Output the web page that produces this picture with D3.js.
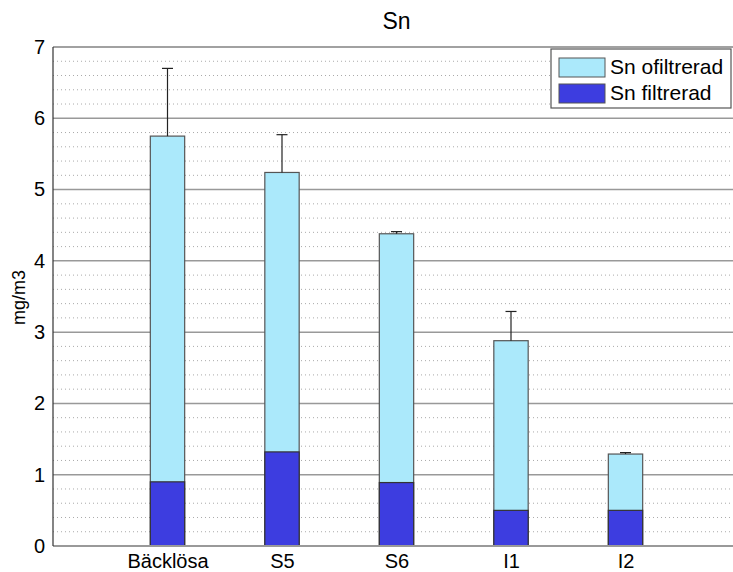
<!DOCTYPE html>
<html>
<head>
<meta charset="utf-8">
<script src="https://cdn.jsdelivr.net/npm/d3@7"></script>
<style>
  body { margin: 0; background: #fff; }
  svg { display: block; font-family: "Liberation Sans", Arial, sans-serif; }
</style>
</head>
<body>
<svg id="chart" width="733" height="572"></svg>
<script>
// Sn concentrations per site (mg/m3)
const categories = ["Bäcklösa", "S5", "S6", "I1", "I2"];
const unfiltered = [5.75, 5.24, 4.38, 2.88, 1.29];
const filtered = [0.90, 1.32, 0.89, 0.50, 0.50];
const unfilteredErr = [0.95, 0.53, 0.03, 0.41, 0.02];
const yTicks = [0, 1, 2, 3, 4, 5, 6, 7];
const seriesNames = ["Sn ofiltrerad", "Sn filtrerad"];

const colLight = "#abe9fb";
const colDark = "#3d3de0";

const svg = d3.select("#chart");
const plotLeft = 53, plotRight = 740, plotTop = 47, plotBottom = 546;

const x = d3.scaleLinear().domain([0, 6]).range([plotLeft, plotRight]);
const y = d3.scaleLinear().domain([0, 7]).range([plotBottom, plotTop]);
const barW = x(0.3) - x(0);

// minor dotted grid
const minor = d3.range(0, 7.001, 0.2).filter(v => Math.abs(v - Math.round(v)) > 1e-6);
svg.append("g").selectAll("line").data(minor).join("line")
  .attr("x1", plotLeft).attr("x2", plotRight)
  .attr("y1", d => y(d)).attr("y2", d => y(d))
  .attr("stroke", "#aaa").attr("stroke-width", 1)
  .attr("stroke-dasharray", "1,3");

// major grid
svg.append("g").selectAll("line").data(yTicks.slice(1, -1)).join("line")
  .attr("x1", plotLeft).attr("x2", plotRight)
  .attr("y1", d => y(d)).attr("y2", d => y(d))
  .attr("stroke", "#999").attr("stroke-width", 1.5);

// bars: unfiltered total, filtered overlaid from zero
const g = svg.append("g");
g.selectAll("rect.unf").data(unfiltered).join("rect")
  .attr("class", "unf")
  .attr("x", (d, i) => x(i + 1) - barW / 2)
  .attr("width", barW)
  .attr("y", d => y(d))
  .attr("height", d => y(0) - y(d))
  .attr("fill", colLight).attr("stroke", "#555").attr("stroke-width", 1.2);

g.selectAll("rect.fil").data(filtered).join("rect")
  .attr("class", "fil")
  .attr("x", (d, i) => x(i + 1) - barW / 2)
  .attr("width", barW)
  .attr("y", d => y(d))
  .attr("height", d => y(0) - y(d))
  .attr("fill", colDark).attr("stroke", "#333").attr("stroke-width", 1.2);

// upper error bars
const eb = svg.append("g").attr("stroke", "#222").attr("stroke-width", 1.2);
unfiltered.forEach((v, i) => {
  const cx = x(i + 1);
  eb.append("line").attr("x1", cx).attr("x2", cx)
    .attr("y1", y(v)).attr("y2", y(v + unfilteredErr[i]));
  eb.append("line").attr("x1", cx - 5.5).attr("x2", cx + 5.5)
    .attr("y1", y(v + unfilteredErr[i])).attr("y2", y(v + unfilteredErr[i]));
});

// frame
svg.append("line").attr("x1", plotLeft).attr("x2", plotRight).attr("y1", plotTop).attr("y2", plotTop)
  .attr("stroke", "#444").attr("stroke-width", 1.2);
svg.append("line").attr("x1", plotLeft).attr("x2", plotRight).attr("y1", plotBottom).attr("y2", plotBottom)
  .attr("stroke", "#999").attr("stroke-width", 2);
svg.append("line").attr("x1", plotLeft).attr("x2", plotLeft).attr("y1", plotTop).attr("y2", plotBottom)
  .attr("stroke", "#333").attr("stroke-width", 1.2);

// y tick labels
const yAxis = d3.axisLeft(y).tickValues(yTicks).tickSize(0).tickPadding(8).tickFormat(d3.format("d"));
const ya = svg.append("g").attr("transform", `translate(${plotLeft},0)`).call(yAxis);
ya.select(".domain").remove();
ya.selectAll("text").attr("font-size", 20).attr("fill", "#000")
  .attr("font-family", "Liberation Sans, Arial, sans-serif");

// x tick labels
const xa = svg.append("g").attr("transform", `translate(0,${plotBottom})`)
  .call(d3.axisBottom(x).tickValues([1, 2, 3, 4, 5]).tickSize(0).tickPadding(8)
    .tickFormat(d => categories[d - 1]));
xa.select(".domain").remove();
xa.selectAll("text").attr("font-size", 20).attr("fill", "#000")
  .attr("font-family", "Liberation Sans, Arial, sans-serif");

// title and axis label
svg.append("text").attr("x", (plotLeft + plotRight) / 2).attr("y", 29)
  .attr("text-anchor", "middle").attr("font-size", 23).text("Sn");
svg.append("text")
  .attr("transform", `translate(25,${(plotTop + plotBottom) / 2 + 1}) rotate(-90)`)
  .attr("text-anchor", "middle").attr("font-size", 18).text("mg/m3");

// legend
const lg = svg.append("g");
lg.append("rect").attr("x", 551).attr("y", 49).attr("width", 180).attr("height", 59)
  .attr("fill", "#fff").attr("stroke", "#555").attr("stroke-width", 1.2);
const swatches = [colLight, colDark];
seriesNames.forEach((name, i) => {
  const yy = 58 + i * 26;
  lg.append("rect").attr("x", 559).attr("y", yy).attr("width", 46).attr("height", 19)
    .attr("fill", swatches[i]).attr("stroke", "#555").attr("stroke-width", 1);
  lg.append("text").attr("x", 610).attr("y", yy + 16).attr("font-size", 21).text(name);
});
</script>
</body>
</html>
